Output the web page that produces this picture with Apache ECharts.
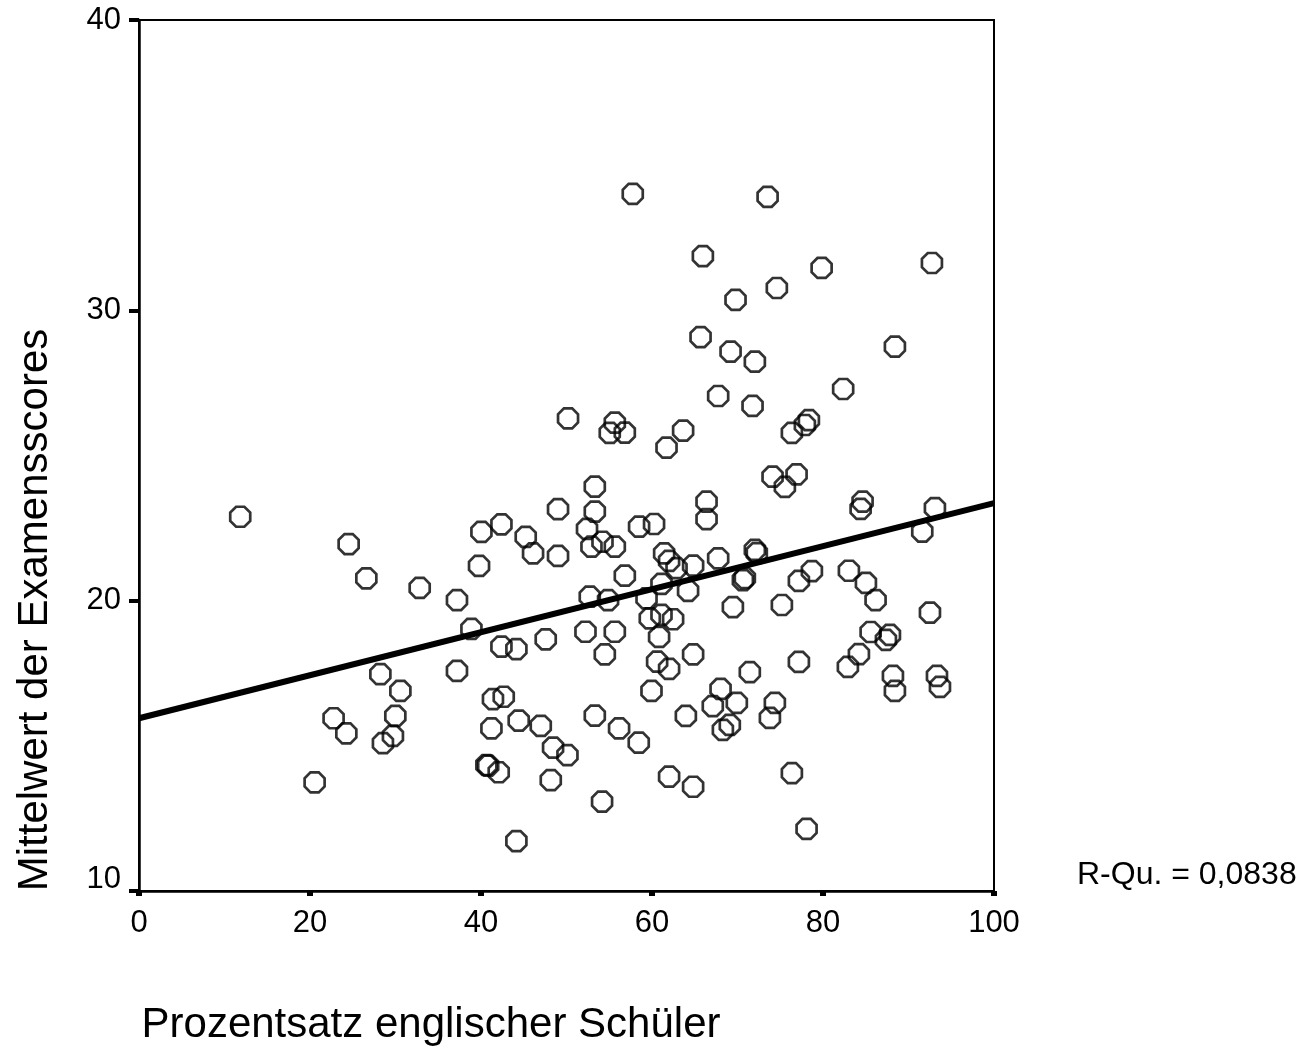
<!DOCTYPE html>
<html>
<head>
<meta charset="utf-8">
<script src="https://cdn.jsdelivr.net/npm/echarts@6/dist/echarts.min.js"></script>
<style>
html,body{margin:0;padding:0;background:#fff;}
#chart{width:1299px;height:1051px;}
</style>
</head>
<body>
<div id="chart"></div>
<script>
// Prozentsatz englischer Schüler (x)
const xValues = [
  11.84, 20.54, 22.76, 24.25, 24.52, 26.59, 28.23, 28.53, 29.70, 29.98,
  30.57, 32.83, 37.19, 37.19, 38.88, 39.77, 40.05, 40.63, 40.84, 41.22,
  41.40, 42.07, 42.39, 42.39, 42.66, 44.14, 44.41, 44.14, 45.23, 46.09,
  46.99, 47.57, 48.16, 48.43, 49.01, 49.01, 50.11, 50.18, 52.40, 52.22,
  52.72, 52.92, 53.31, 53.31, 53.31, 54.21, 54.16, 54.48, 54.86, 55.06,
  55.65, 55.65, 55.65, 56.15, 56.82, 56.82, 57.75, 58.49, 58.45, 59.36,
  59.74, 59.94, 60.24, 60.60, 60.83, 61.11, 61.11, 61.42, 61.70, 62.00,
  62.00, 62.00, 62.47, 62.87, 63.64, 63.96, 64.22, 64.81, 64.81, 64.81,
  65.68, 65.95, 66.38, 66.38, 67.11, 67.74, 67.74, 68.02, 68.29, 69.10,
  69.19, 69.46, 69.77, 69.92, 70.63, 70.86, 71.44, 71.76, 72.03, 72.03,
  72.26, 73.52, 73.79, 74.10, 74.37, 74.60, 75.19, 75.54, 76.36, 76.36,
  76.91, 77.18, 77.18, 77.88, 78.35, 78.08, 78.70, 79.84, 82.36, 83.03,
  82.91, 84.20, 84.40, 84.63, 85.02, 85.57, 86.15, 87.36, 87.83, 88.18,
  88.41, 88.41, 91.61, 92.51, 92.74, 93.09, 93.33, 93.68
];
// Mittelwert der Examensscores (y)
const yValues = [
  22.89, 13.74, 15.95, 15.43, 21.95, 20.77, 17.47, 15.09, 15.34, 16.03,
  16.89, 20.44, 20.02, 17.58, 19.03, 21.20, 22.37, 14.34, 14.32, 15.60,
  16.61, 14.09, 22.63, 18.42, 16.69, 18.33, 15.87, 11.72, 22.20, 21.63,
  15.69, 18.67, 13.82, 14.94, 23.15, 21.54, 14.68, 26.28, 22.47, 18.93,
  20.14, 21.86, 23.07, 16.04, 23.93, 22.03, 13.08, 18.15, 20.02, 25.78,
  26.13, 18.93, 21.86, 15.60, 25.79, 20.86, 34.01, 22.55, 15.11, 20.08,
  19.39, 16.89, 22.64, 17.90, 18.75, 19.51, 20.58, 21.63, 25.27, 21.37,
  17.65, 13.94, 19.36, 21.12, 25.86, 16.03, 20.34, 21.21, 18.15, 13.59,
  29.08, 31.87, 22.81, 23.41, 16.37, 27.05, 21.46, 16.96, 15.55, 15.72,
  28.58, 19.78, 30.36, 16.48, 20.71, 20.78, 17.54, 26.71, 28.23, 21.75,
  21.64, 33.91, 15.96, 24.27, 16.48, 30.77, 19.85, 23.92, 25.78, 14.06,
  24.35, 20.68, 17.89, 26.05, 26.22, 12.14, 21.02, 31.46, 27.29, 21.03,
  17.72, 18.16, 23.16, 23.41, 20.61, 18.92, 20.02, 18.65, 18.82, 17.41,
  28.75, 16.89, 22.38, 19.59, 31.63, 23.19, 17.41, 17.03
];
// Regression line (linear fit) endpoints
const fitX = [0, 100];
const fitY = [15.95, 23.36];

const xAxisTitle = 'Prozentsatz englischer Schüler';
const yAxisTitle = 'Mittelwert der Examensscores';
const rSquaredLabel = 'R-Qu. = 0,0838';

const FONT = '"Liberation Sans", Arial, Helvetica, sans-serif';

const points = xValues.map((x, i) => [x, yValues[i]]);
const fitLine = fitX.map((x, i) => [x, fitY[i]]);

const octagon = 'path://M-0.4142,-1 L0.4142,-1 L1,-0.4142 L1,0.4142 L0.4142,1 L-0.4142,1 L-1,0.4142 L-1,-0.4142 Z';

const chart = echarts.init(document.getElementById('chart'), null, {renderer: 'canvas'});
chart.setOption({
  backgroundColor: '#ffffff',
  animation: false,
  grid: {
    left: 139, right: 305, top: 20, bottom: 160,
    show: true, borderColor: '#000', borderWidth: 2,
    outerBoundsMode: 'none'
  },
  xAxis: {
    type: 'value', min: 0, max: 100, interval: 20,
    axisLine: {show: true, onZero: false, lineStyle: {color: '#000', width: 2.5}},
    axisTick: {show: true, length: 5, lineStyle: {color: '#000', width: 6}},
    splitLine: {show: false},
    axisLabel: {color: '#000', fontSize: 31, fontFamily: FONT, margin: 17}
  },
  yAxis: {
    type: 'value', min: 10, max: 40, interval: 10,
    axisLine: {show: true, onZero: false, lineStyle: {color: '#000', width: 2.5}},
    axisTick: {show: true, length: 10, lineStyle: {color: '#000', width: 4}},
    splitLine: {show: false},
    axisLabel: {
      color: '#000', fontSize: 31, fontFamily: FONT, margin: 18,
      formatter: function (v) { return v === 10 ? '{lo|10}' : String(v); },
      rich: {lo: {fontSize: 31, fontFamily: FONT, color: '#000', padding: [0, 0, 24, 0]}}
    }
  },
  series: [
    {
      type: 'scatter',
      data: points,
      symbol: octagon,
      symbolSize: 20,
      itemStyle: {color: 'rgba(0,0,0,0)', borderColor: '#000', borderWidth: 2.7},
      emphasis: {disabled: true},
      z: 2
    },
    {
      type: 'line',
      data: fitLine,
      showSymbol: false,
      symbol: 'none',
      lineStyle: {color: '#000', width: 6},
      emphasis: {disabled: true},
      z: 3
    }
  ],
  graphic: [
    {
      type: 'text', x: 431, y: 1025,
      style: {text: xAxisTitle, font: '42px ' + FONT, fill: '#000', align: 'center', verticalAlign: 'middle'}
    },
    {
      type: 'text', x: 35, y: 610, rotation: Math.PI / 2,
      style: {text: yAxisTitle, font: '42px ' + FONT, fill: '#000', align: 'center', verticalAlign: 'middle'}
    },
    {
      type: 'text', x: 1077, y: 875,
      style: {text: rSquaredLabel, font: '32px ' + FONT, fill: '#000', align: 'left', verticalAlign: 'middle'}
    }
  ]
});
</script>
</body>
</html>
